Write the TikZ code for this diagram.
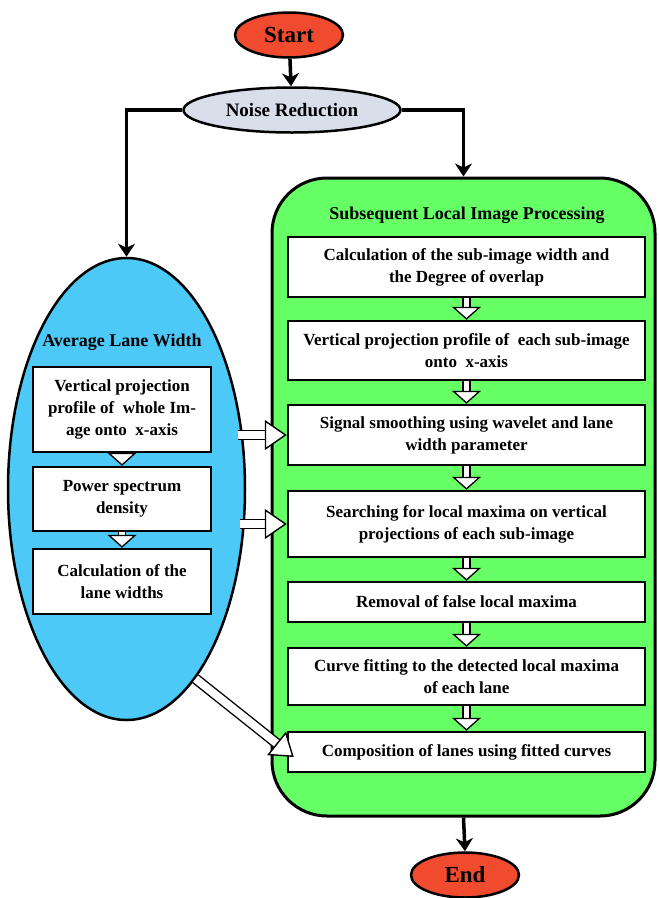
\documentclass[tikz,border=0pt]{standalone}
\usepackage{fontspec}
\setmainfont{Liberation Serif}
\usetikzlibrary{shapes.geometric,arrows.meta}
\definecolor{termred}{HTML}{F04B2E}
\definecolor{noisegray}{HTML}{D8DEEA}
\definecolor{laneblue}{HTML}{4CC9F7}
\definecolor{procgreen}{HTML}{66FF66}
\tikzset{
  term/.style={ellipse, draw, line width=2.5pt, fill=termred, inner sep=0pt,
    minimum width=108pt, minimum height=45pt, font=\fontsize{23}{26}\selectfont\bfseries},
  noisenode/.style={ellipse, draw, line width=2.5pt, fill=noisegray, inner sep=0pt,
    minimum width=217pt, minimum height=45pt, font=\fontsize{19}{22}\selectfont\bfseries},
  stepbox/.style={rectangle, draw, line width=2.5pt, fill=white, inner sep=0pt,
    align=center, font=\fontsize{17}{22}\selectfont\bfseries},
  leftbox/.style={stepbox, minimum width=178pt},
  rightbox/.style={stepbox, minimum width=357pt},
  thickarrow/.style={line width=3.5pt, -{Stealth[length=13pt,width=17pt,inset=4pt]}},
  hollow/.style={line width=1.3pt, double=white, double distance=5.5pt,
    -{Triangle[length=13pt,width=29pt,fill=white,line width=1.3pt]}},
  widehollow/.style={line width=1.4pt, double=white, double distance=8pt,
    -{Triangle[length=22pt,width=30pt,fill=white,line width=1.4pt]}},
  grouptitle/.style={font=\fontsize{18}{22}\selectfont\bfseries}
}
\begin{document}
\begin{tikzpicture}[x=1pt,y=-1pt]
\useasboundingbox (0,0) rectangle (659,898);

% terminals and noise step
\node[term] (start) at (289,35) {Start};
\node[noisenode] (noise) at (292,110) {Noise Reduction};
\node[term] (end) at (465,875) {End};

% the two groups
\node[rectangle, rounded corners=55pt, draw, line width=3pt, fill=procgreen,
  minimum width=383pt, minimum height=638pt] (lip) at (463.5,497) {};
\node[ellipse, draw, line width=2.5pt, fill=laneblue,
  minimum width=237pt, minimum height=462pt] (alw) at (126.5,489) {};
\node[grouptitle] (liptitle) at (467,215) {Subsequent Local Image Processing};
\node[grouptitle] (alwtitle) at (122,342) {Average Lane Width};

% average lane width steps
\node[leftbox, minimum height=85pt] (vpw) at (122,409.5) {Vertical projection\\profile of\ \ whole Im-\\age onto\ \ x-axis};
\node[leftbox, minimum height=64pt] (psd) at (122,499) {Power spectrum\\density};
\node[leftbox, minimum height=65pt] (clw) at (122,581.5) {Calculation of the\\lane widths};

% local processing steps
\node[rightbox, minimum height=60pt] (csw) at (466.5,267) {Calculation of the sub-image width and\\the Degree of overlap};
\node[rightbox, minimum height=59pt] (vps) at (466.5,350.5) {Vertical projection profile of\ \ each sub-image\\onto\ \ x-axis};
\node[rightbox, minimum height=60pt] (sms) at (466.5,435) {Signal smoothing using wavelet and lane\\width parameter};
\node[rightbox, minimum height=66pt] (slm) at (466.5,524) {Searching for local maxima on vertical\\projections of each sub-image};
\node[rightbox, minimum height=40pt] (rfl) at (466.5,602) {Removal of false local maxima};
\node[rightbox, minimum height=57pt] (cft) at (466.5,676.5) {Curve fitting to the detected local maxima\\of each lane};
\node[rightbox, minimum height=40pt] (cmp) at (466.5,752) {Composition of lanes using fitted curves};

% main flow
\draw[thickarrow] (start) -- (noise);
\draw[thickarrow] (noise.west) -| (alw.north);
\draw[thickarrow] (noise.east) -| (lip.north);
\draw[thickarrow] (lip.south) -- (end.north);

% hollow arrows
\draw[hollow] (vpw) -- (psd);
\draw[hollow] (psd) -- (clw);
\draw[hollow] (csw) -- (vps);
\draw[hollow] (vps) -- (sms);
\draw[hollow] (sms) -- (slm);
\draw[hollow] (slm) -- (rfl);
\draw[hollow] (rfl) -- (cft);
\draw[hollow] (cft) -- (cmp);
\draw[widehollow] ([xshift=-8pt]alw.east |- sms.west) -- (sms.west);
\draw[widehollow] ([xshift=-6pt]alw.east |- slm.west) -- (slm.west);
\draw[widehollow] (alw.-70) -- ([xshift=7pt,yshift=-5pt]cmp.west);
\end{tikzpicture}
\end{document}
